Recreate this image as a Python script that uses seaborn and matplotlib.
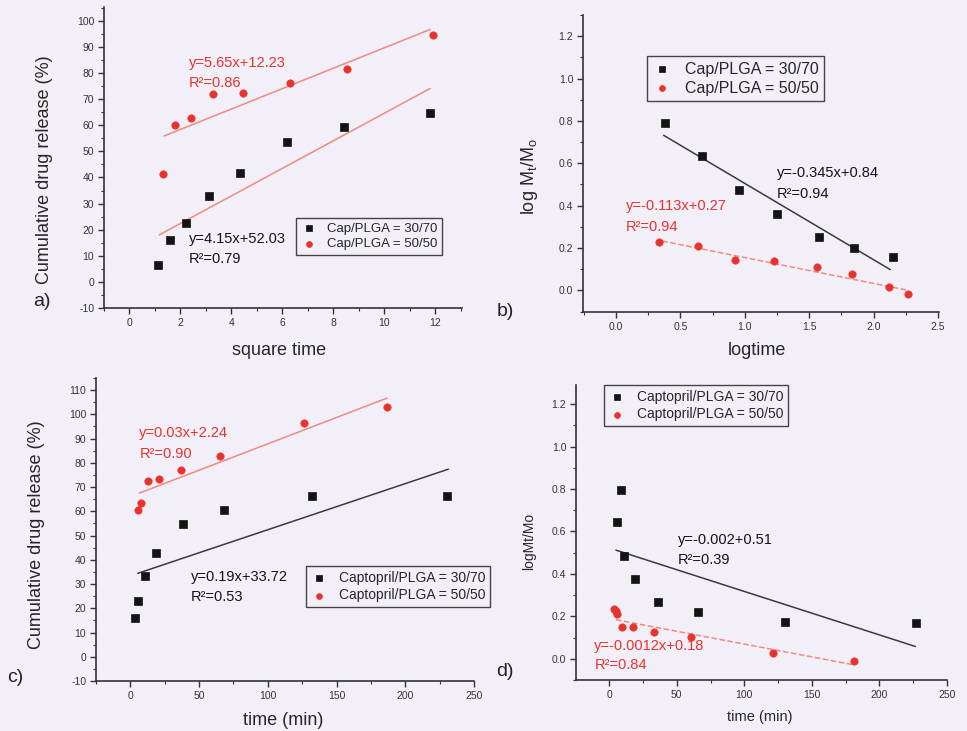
import matplotlib
matplotlib.use("Agg")
import matplotlib.pyplot as plt
import seaborn as sns
import pandas as pd

W, H = 967, 731
BG = "#f3eff8"
RED = "#e8332c"
BLACK = "#141414"
SALMON = "#f08a80"
GREYLINE = "#3a3a3a"

# ---- panel a: square time ----
a_x_3070 = [1.10, 1.60, 2.23, 3.11, 4.33, 6.20, 8.43, 11.78]
a_y_3070 = [6.6, 15.9, 22.5, 33.0, 41.7, 53.5, 59.2, 64.8]
a_x_5050 = [1.30, 1.80, 2.43, 3.28, 4.46, 6.31, 8.52, 11.91]
a_y_5050 = [41.4, 60.1, 62.7, 72.1, 72.3, 76.0, 81.4, 94.6]
a_fit_x_3070 = [1.17, 11.8]
a_fit_y_3070 = [18.0, 74.1]
a_fit_x_5050 = [1.36, 11.8]
a_fit_y_5050 = [55.9, 96.7]

# ---- panel b: logtime ----
b_x_3070 = [0.38, 0.67, 0.956, 1.25, 1.58, 1.85, 2.15]
b_y_3070 = [0.79, 0.636, 0.472, 0.362, 0.25, 0.20, 0.159]
b_x_5050 = [0.336, 0.636, 0.928, 1.23, 1.56, 1.83, 2.12, 2.27]
b_y_5050 = [0.228, 0.208, 0.145, 0.137, 0.110, 0.079, 0.016, -0.016]
b_fit_x_3070 = [0.37, 2.13]
b_fit_y_3070 = [0.732, 0.098]
b_fit_x_5050 = [0.36, 2.27]
b_fit_y_5050 = [0.233, 0.0]

# ---- panel c: time (min) ----
c_x_3070 = [3.4, 5.8, 10.6, 18.9, 38.0, 68.4, 132.5, 230.2]
c_y_3070 = [15.9, 23.0, 33.3, 42.7, 54.6, 60.5, 66.3, 66.4]
c_x_5050 = [5.8, 8.0, 12.6, 20.6, 37.0, 65.3, 126.2, 186.4]
c_y_5050 = [60.6, 63.4, 72.6, 73.2, 77.0, 82.8, 96.3, 103.0]
c_fit_x_3070 = [5.3, 231.4]
c_fit_y_3070 = [34.4, 77.4]
c_fit_x_5050 = [6.5, 186.7]
c_fit_y_5050 = [67.5, 106.7]

# ---- panel d: time (min), log ----
d_x_3070 = [5.7, 8.9, 11.1, 18.7, 36.0, 65.8, 129.8, 227.3]
d_y_3070 = [0.644, 0.794, 0.482, 0.376, 0.268, 0.220, 0.175, 0.168]
d_x_5050 = [3.4, 4.7, 5.4, 9.4, 17.5, 33.0, 60.8, 120.9, 180.8]
d_y_5050 = [0.235, 0.225, 0.213, 0.151, 0.150, 0.128, 0.101, 0.027, -0.009]
d_fit_x_3070 = [4.9, 226.6]
d_fit_y_3070 = [0.512, 0.058]
d_fit_x_5050 = [4.9, 180.5]
d_fit_y_5050 = [0.184, -0.028]

sns.set_theme(style="ticks")
plt.rcParams['font.family'] = ['Liberation Sans', 'DejaVu Sans']
plt.rcParams['axes.facecolor'] = BG
plt.rcParams['figure.facecolor'] = BG

fig = plt.figure(figsize=(W / 100, H / 100), dpi=100)


def add_ax(l, t, r, b):
    return fig.add_axes([l / W, 1 - b / H, (r - l) / W, (b - t) / H])


def style_ax(ax, xlim, ylim, xmaj, xmin, ymaj, ymin, fmt):
    ax.set_xlim(*xlim)
    ax.set_ylim(*ylim)
    ax.xaxis.set_major_locator(plt.MultipleLocator(xmaj))
    ax.xaxis.set_minor_locator(plt.MultipleLocator(xmin))
    ax.yaxis.set_major_locator(plt.MultipleLocator(ymaj))
    ax.yaxis.set_minor_locator(plt.MultipleLocator(ymin))
    ax.xaxis.set_major_formatter(plt.FormatStrFormatter(fmt[0]))
    ax.yaxis.set_major_formatter(plt.FormatStrFormatter(fmt[1]))
    for s in ["top", "right"]:
        ax.spines[s].set_visible(False)
    for s in ["left", "bottom"]:
        ax.spines[s].set_color("#333333")
        ax.spines[s].set_linewidth(1.2)
    ax.tick_params(which="major", direction="out", length=4, width=1, color="#333333",
                   labelsize=7.5, labelcolor="#333333", pad=3)
    ax.tick_params(which="minor", direction="out", length=2, width=0.8, color="#333333")


def draw(ax, xs1, ys1, xs2, ys2, l1, l2, fit1, fit2, c1, c2, ls1, ls2):
    df1 = pd.DataFrame({"x": xs1, "y": ys1})
    df2 = pd.DataFrame({"x": xs2, "y": ys2})
    sns.lineplot(x=fit1[0], y=fit1[1], ax=ax, color=c1, lw=1.1, linestyle=ls1)
    sns.lineplot(x=fit2[0], y=fit2[1], ax=ax, color=c2, lw=1.1, linestyle=ls2)
    sns.scatterplot(data=df1, x="x", y="y", ax=ax, marker="s", s=26, color=BLACK,
                    edgecolor=BLACK, linewidth=0.5, label=l1, zorder=3)
    sns.scatterplot(data=df2, x="x", y="y", ax=ax, marker="o", s=28, color=RED,
                    edgecolor=RED, linewidth=0.5, label=l2, zorder=3)


def legend(ax, x, y, fs):
    lg = ax.legend(loc="upper left", bbox_to_anchor=(x / W, 1 - y / H),
                   bbox_transform=fig.transFigure, borderaxespad=0, fancybox=False,
                   frameon=True, fontsize=fs, handletextpad=0.8, borderpad=0.35,
                   labelspacing=0.25, handlelength=1.2, markerscale=0.8)
    lg.get_frame().set_edgecolor("#444444")
    lg.get_frame().set_linewidth(1.0)
    lg.get_frame().set_facecolor(BG)
    lg.get_frame().set_alpha(1)


# ---- a ----
ax = add_ax(104, 7, 462, 308)
draw(ax, a_x_3070, a_y_3070, a_x_5050, a_y_5050, "Cap/PLGA = 30/70", "Cap/PLGA = 50/50",
     (a_fit_x_3070, a_fit_y_3070), (a_fit_x_5050, a_fit_y_5050), SALMON, SALMON, "-", "-")
style_ax(ax, (-1, 13.05), (-10, 105.3), 2, 1, 10, 5, ("%d", "%d"))
ax.set_xlabel("square time", fontsize=13)
ax.set_ylabel("Cumulative drug release (%)", fontsize=13)
ax.xaxis.set_label_coords(0.49, -0.112)
ax.yaxis.set_label_coords(-0.142, 0.458)
ax.text(2.33, 83.7, "y=5.65x+12.23", color=RED, fontsize=10.5, va="center")
ax.text(2.33, 76.3, "R²=0.86", color=RED, fontsize=10.5, va="center")
ax.text(2.33, 16.4, "y=4.15x+52.03", color=BLACK, fontsize=10.5, va="center")
ax.text(2.33, 8.7, "R²=0.79", color=BLACK, fontsize=10.5, va="center")
legend(ax, 296, 218, 9.5)

# ---- b ----
ax = add_ax(583, 15, 939, 312)
draw(ax, b_x_3070, b_y_3070, b_x_5050, b_y_5050, "Cap/PLGA = 30/70", "Cap/PLGA = 50/50",
     (b_fit_x_3070, b_fit_y_3070), (b_fit_x_5050, b_fit_y_5050), GREYLINE, SALMON, "-", "--")
style_ax(ax, (-0.256, 2.508), (-0.102, 1.30), 0.5, 0.25, 0.2, 0.1, ("%.1f", "%.1f"))
ax.set_xlabel("logtime", fontsize=13)
ax.set_ylabel("log M$_\\mathregular{t}$/M$_\\mathregular{o}$", fontsize=13)
ax.xaxis.set_label_coords(0.489, -0.1)
ax.yaxis.set_label_coords(-0.121, 0.455)
ax.text(1.25, 0.554, "y=-0.345x+0.84", color=BLACK, fontsize=10.5, va="center")
ax.text(1.25, 0.457, "R²=0.94", color=BLACK, fontsize=10.5, va="center")
ax.text(0.077, 0.40, "y=-0.113x+0.27", color=RED, fontsize=10.5, va="center")
ax.text(0.077, 0.30, "R²=0.94", color=RED, fontsize=10.5, va="center")
legend(ax, 647, 56, 11.5)

# ---- c ----
ax = add_ax(96, 378, 474, 681)
draw(ax, c_x_3070, c_y_3070, c_x_5050, c_y_5050, "Captopril/PLGA = 30/70",
     "Captopril/PLGA = 50/50", (c_fit_x_3070, c_fit_y_3070), (c_fit_x_5050, c_fit_y_5050),
     GREYLINE, SALMON, "-", "-")
style_ax(ax, (-25, 250), (-10, 115), 50, 25, 10, 5, ("%d", "%d"))
ax.set_xlabel("time (min)", fontsize=13)
ax.set_ylabel("Cumulative drug release (%)", fontsize=13)
ax.xaxis.set_label_coords(0.495, -0.101)
ax.yaxis.set_label_coords(-0.135, 0.482)
ax.text(6.5, 92.3, "y=0.03x+2.24", color=RED, fontsize=10.5, va="center")
ax.text(6.5, 83.8, "R²=0.90", color=RED, fontsize=10.5, va="center")
ax.text(44, 33.0, "y=0.19x+33.72", color=BLACK, fontsize=10.5, va="center")
ax.text(44, 24.8, "R²=0.53", color=BLACK, fontsize=10.5, va="center")
legend(ax, 306, 566, 10)

# ---- d ----
ax = add_ax(576, 385, 947, 680)
draw(ax, d_x_3070, d_y_3070, d_x_5050, d_y_5050, "Captopril/PLGA = 30/70",
     "Captopril/PLGA = 50/50", (d_fit_x_3070, d_fit_y_3070), (d_fit_x_5050, d_fit_y_5050),
     GREYLINE, SALMON, "-", "--")
style_ax(ax, (-24.6, 250), (-0.1, 1.29), 50, 25, 0.2, 0.1, ("%d", "%.1f"))
ax.set_xlabel("time (min)", fontsize=10.5)
ax.set_ylabel("logMt/Mo", fontsize=10)
ax.xaxis.set_label_coords(0.496, -0.102)
ax.yaxis.set_label_coords(-0.108, 0.471)
ax.text(51, 0.559, "y=-0.002+0.51", color=BLACK, fontsize=10.5, va="center")
ax.text(51, 0.465, "R²=0.39", color=BLACK, fontsize=10.5, va="center")
ax.text(-11, 0.061, "y=-0.0012x+0.18", color=RED, fontsize=10.5, va="center")
ax.text(-11, -0.028, "R²=0.84", color=RED, fontsize=10.5, va="center")
legend(ax, 604, 385, 10)

# panel letters
for lbl, x, y in [("a)", 42, 301), ("b)", 505, 312), ("c)", 15, 677), ("d)", 505, 672)]:
    fig.text(x / W, 1 - y / H, lbl, fontsize=14, ha="center", va="center", color="#222222")

plt.savefig("out.png", dpi=100, facecolor=BG)
